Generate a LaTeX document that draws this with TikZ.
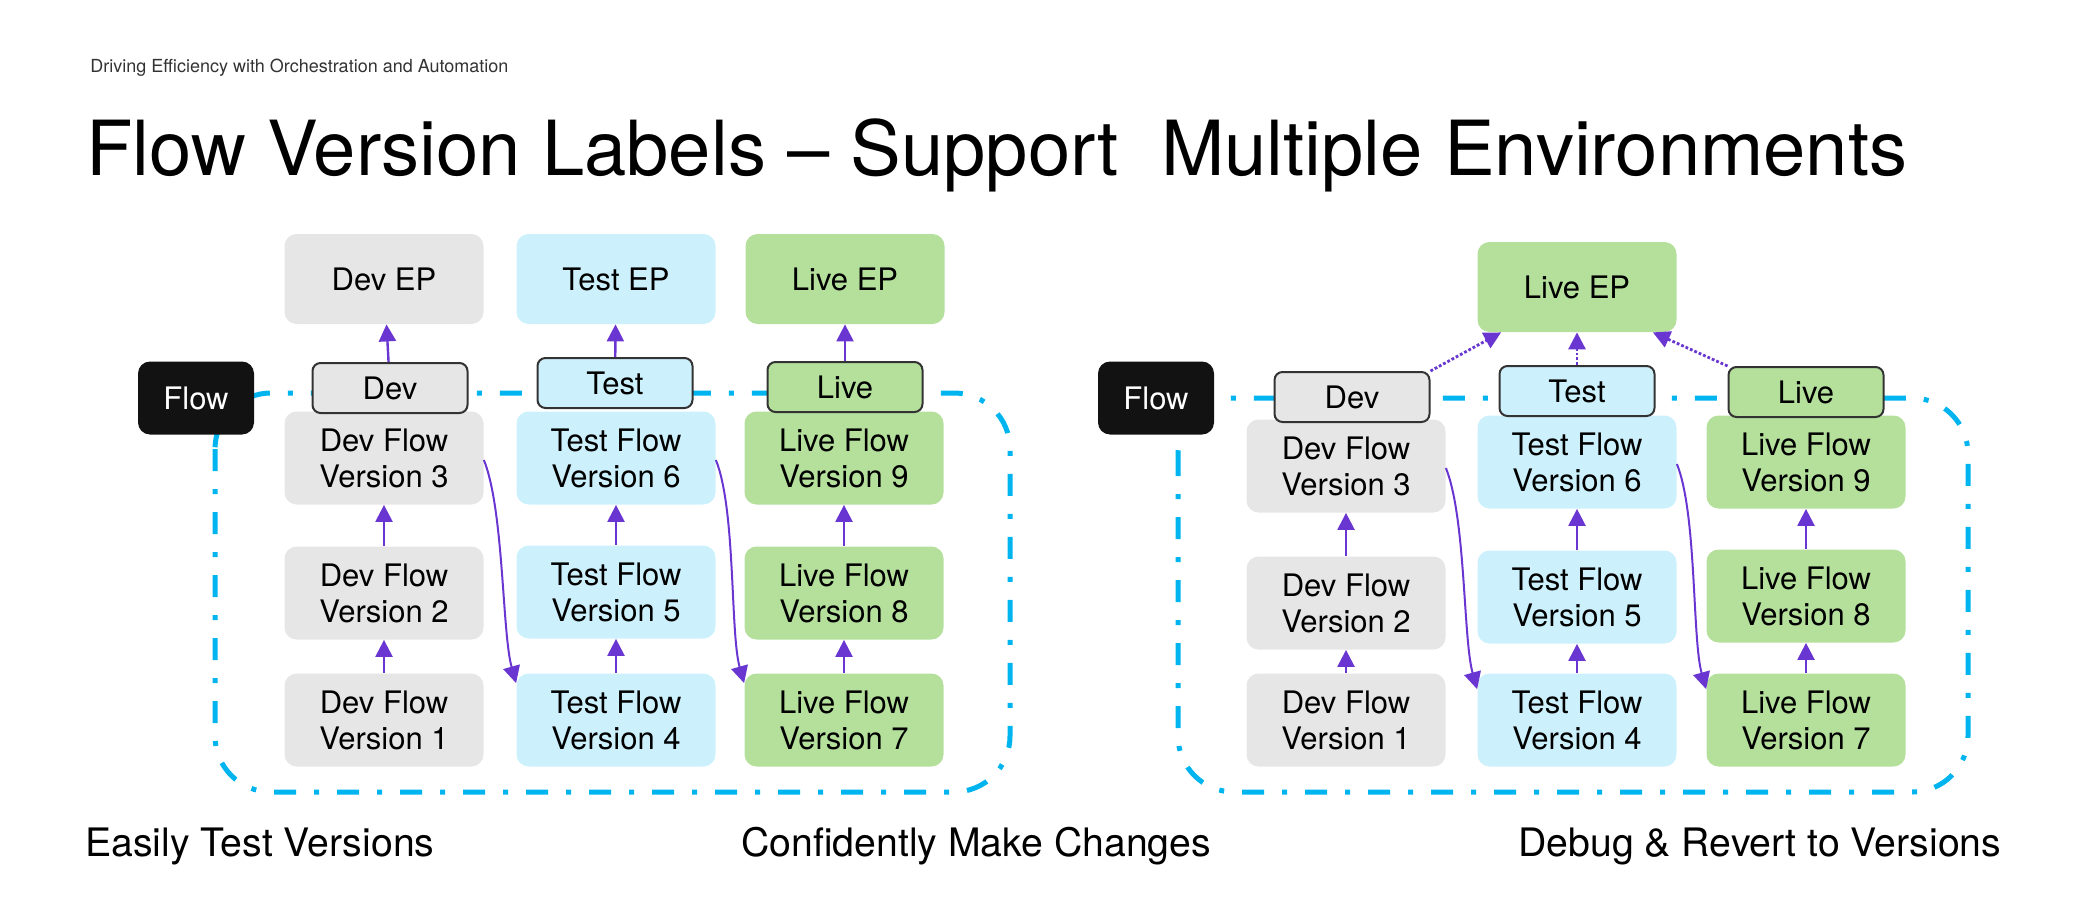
\documentclass[tikz,border=0pt]{standalone}
\usepackage{fontspec}
\setmainfont{TeX Gyre Heros}
\usepackage{tikz}
\usetikzlibrary{arrows.meta,positioning}

\definecolor{devgray}{HTML}{E6E6E6}
\definecolor{testblue}{HTML}{CCF1FD}
\definecolor{livegreen}{HTML}{B4E09C}
\definecolor{flowcyan}{HTML}{00B4F0}
\definecolor{arrowpurple}{HTML}{6A36D1}
\definecolor{labelborder}{HTML}{333333}

\begin{document}
\begin{tikzpicture}[x=0.5pt,y=-0.5pt,
	boxfont/.style={font=\fontsize{15.5}{18}\selectfont},
	vbox/.style={boxfont, rounded corners=6pt, inner sep=0pt, align=center,
		minimum width=99.5pt, minimum height=46.5pt},
	epbox/.style={vbox, minimum height=45pt},
	lbl/.style={boxfont, draw=labelborder, line width=1pt, rounded corners=4pt,
		inner sep=0pt, minimum width=77.5pt, minimum height=25pt},
	flowbox/.style={boxfont, fill=black!93, text=white, rounded corners=6pt,
		inner sep=0pt, minimum width=58pt, minimum height=36.5pt},
	flowline/.style={draw=flowcyan, line width=2.5pt, rounded corners=28pt,
		dash pattern=on 11pt off 9pt on 2.5pt off 9pt},
	up/.style={draw=arrowpurple, line width=1.2pt, -{Triangle[length=8.5pt,width=8.5pt]}},
	hop/.style={up, line width=1pt},
	ref/.style={up, line width=1.4pt, densely dotted},
	caption/.style={anchor=west, inner sep=0pt, font=\fontsize{19.6}{23}\selectfont}]

	\useasboundingbox (0,0) rectangle (2082,899);

	% heading
	\node[anchor=west, inner sep=0pt, font=\fontsize{9}{11}\selectfont, text=black!80] (subtitle) at (90,68)
		{Driving Efficiency with Orchestration and Automation};
	\node[anchor=base west, inner sep=0pt, font=\fontsize{38}{44}\selectfont] (title) at (86,176)
		{Flow Version Labels – Support\ \ Multiple Environments};

	% left: one endpoint per environment
	\draw[flowline] (215,393) rectangle (1010,792);

	\node[epbox, fill=devgray] (ldevep) at (384,279) {Dev EP};
	\node[epbox, fill=testblue] (ltestep) at (616,279) {Test EP};
	\node[epbox, fill=livegreen] (lliveep) at (845,279) {Live EP};

	\node[vbox, fill=devgray] (ldev3) at (384,458) {Dev Flow\\Version 3};
	\node[vbox, fill=devgray] (ldev2) at (384,593) {Dev Flow\\Version 2};
	\node[vbox, fill=devgray] (ldev1) at (384,720) {Dev Flow\\Version 1};
	\node[vbox, fill=testblue] (ltest6) at (616,458) {Test Flow\\Version 6};
	\node[vbox, fill=testblue] (ltest5) at (616,592) {Test Flow\\Version 5};
	\node[vbox, fill=testblue] (ltest4) at (616,720) {Test Flow\\Version 4};
	\node[vbox, fill=livegreen] (llive9) at (844,458) {Live Flow\\Version 9};
	\node[vbox, fill=livegreen] (llive8) at (844,593) {Live Flow\\Version 8};
	\node[vbox, fill=livegreen] (llive7) at (844,720) {Live Flow\\Version 7};

	\node[lbl, fill=devgray] (ldevlbl) at (390,388) {Dev};
	\node[lbl, fill=testblue] (ltestlbl) at (615,383) {Test};
	\node[lbl, fill=livegreen] (llivelbl) at (845,387) {Live};
	\node[flowbox] (lflow) at (196,398) {Flow};

	\draw[up] (ldevlbl) to (ldevep);
	\draw[up] (ltestlbl) to (ltestep);
	\draw[up] (llivelbl) to (lliveep);
	\draw[up] (ldev1) to (ldev2);
	\draw[up] (ldev2) to (ldev3);
	\draw[up] (ltest4) to (ltest5);
	\draw[up] (ltest5) to (ltest6);
	\draw[up] (llive7) to (llive8);
	\draw[up] (llive8) to (llive9);
	\draw[hop] ([yshift=-1pt]ldev3.east) .. controls +(20,50) and +(-14,-50) .. ([yshift=-5pt]ltest4.north west);
	\draw[hop] ([yshift=-1pt]ltest6.east) .. controls +(20,50) and +(-14,-50) .. ([yshift=-5pt]llive7.north west);

	% right: one endpoint, labels point at it
	\draw[flowline] (1178,398) rectangle (1968,792);

	\node[epbox, fill=livegreen] (rliveep) at (1577,287) {Live EP};

	\node[vbox, fill=devgray] (rdev3) at (1346,466) {Dev Flow\\Version 3};
	\node[vbox, fill=devgray] (rdev2) at (1346,603) {Dev Flow\\Version 2};
	\node[vbox, fill=devgray] (rdev1) at (1346,720) {Dev Flow\\Version 1};
	\node[vbox, fill=testblue] (rtest6) at (1577,462) {Test Flow\\Version 6};
	\node[vbox, fill=testblue] (rtest5) at (1577,597) {Test Flow\\Version 5};
	\node[vbox, fill=testblue] (rtest4) at (1577,720) {Test Flow\\Version 4};
	\node[vbox, fill=livegreen] (rlive9) at (1806,462) {Live Flow\\Version 9};
	\node[vbox, fill=livegreen] (rlive8) at (1806,596) {Live Flow\\Version 8};
	\node[vbox, fill=livegreen] (rlive7) at (1806,720) {Live Flow\\Version 7};

	\node[lbl, fill=devgray] (rdevlbl) at (1352,397) {Dev};
	\node[lbl, fill=testblue] (rtestlbl) at (1577,391) {Test};
	\node[lbl, fill=livegreen] (rlivelbl) at (1806,392) {Live};
	\node[flowbox] (rflow) at (1156,398) {Flow};

	\draw[ref] (rdevlbl.north east) to ([xshift=12pt]rliveep.south west);
	\draw[ref] (rtestlbl) to (rliveep);
	\draw[ref] (rlivelbl.north west) to ([xshift=-12pt]rliveep.south east);
	\draw[up] (rdev1) to (rdev2);
	\draw[up] (rdev2) to (rdev3);
	\draw[up] (rtest4) to (rtest5);
	\draw[up] (rtest5) to (rtest6);
	\draw[up] (rlive7) to (rlive8);
	\draw[up] (rlive8) to (rlive9);
	\draw[hop] ([yshift=-1pt]rdev3.east) .. controls +(20,50) and +(-14,-50) .. ([yshift=-8pt]rtest4.north west);
	\draw[hop] ([yshift=-1pt]rtest6.east) .. controls +(20,50) and +(-14,-50) .. ([yshift=-8pt]rlive7.north west);

	% captions
	\node[caption] (easily) at (85,846) {Easily Test Versions};
	\node[caption] (confidently) at (741,846) {Confidently Make Changes};
	\node[caption] (debug) at (1518,846) {Debug \& Revert to Versions};
\end{tikzpicture}
\end{document}
